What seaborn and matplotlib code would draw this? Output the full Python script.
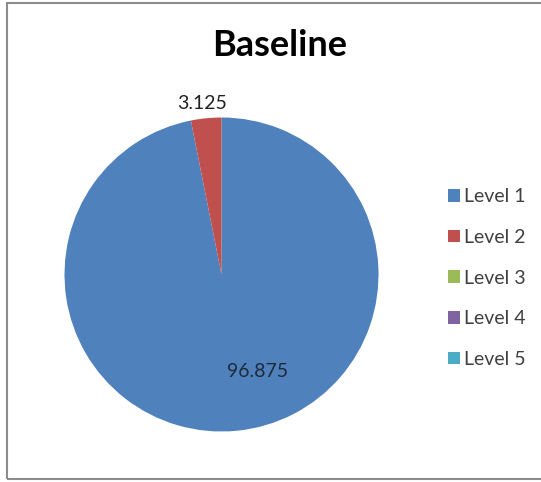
import matplotlib
matplotlib.use("Agg")
import matplotlib.pyplot as plt
import matplotlib.patches as mpatches
import seaborn as sns

# Share of students at each level
levels = ["Level 1", "Level 2", "Level 3", "Level 4", "Level 5"]
shares = [96.875, 3.125, 0, 0, 0]
colors = ["#4F81BD", "#C0504D", "#9BBB59", "#8064A2", "#4BACC6"]

sns.set_theme(style="white")
plt.rcParams["font.family"] = ["Lato", "DejaVu Sans"]

W, H = 541, 482
fig = plt.figure(figsize=(W / 100, H / 100), dpi=100)

# pie axes: centre and radius in pixels
cx, cy, r = 221.5, 274.5, 157
ax = fig.add_axes([(cx - r) / W, 1 - (cy + r) / H, 2 * r / W, 2 * r / H])
wedges, _ = ax.pie(shares, colors=colors, startangle=90, counterclock=False,
                   radius=1, wedgeprops=dict(linewidth=0))
ax.set_xlim(-1, 1)
ax.set_ylim(-1, 1)
ax.set_aspect("auto")
ax.axis("off")

# value labels
ax.text(0.229, -0.621, f"{shares[0]:g}", ha="center", va="center",
        fontsize=14, color="#1f2a3a")
ax.text(-0.124, 1.086, f"{shares[1]:g}", ha="center", va="center",
        fontsize=14, color="#222222")

fig.suptitle("Baseline", x=279.5 / W, y=1 - 45 / H, va="center",
             fontsize=26, fontweight="bold", color="black")

handles = [mpatches.Patch(facecolor=c, edgecolor="none") for c in colors]
fig.legend(handles, levels, loc="center left",
           bbox_to_anchor=(430 / W, 1 - 278 / H), frameon=False,
           fontsize=14, labelcolor="#404040", handlelength=0.62,
           handleheight=0.62, handletextpad=0.22, labelspacing=1.22)

# chart area frame
fig.patches.append(mpatches.Rectangle((7 / W, 3 / H), 1.0, 1 - 6 / H,
                                      transform=fig.transFigure,
                                      fill=False, edgecolor="#8c8c8c",
                                      linewidth=1.5))

fig.savefig("out.png", dpi=100, facecolor="white")
